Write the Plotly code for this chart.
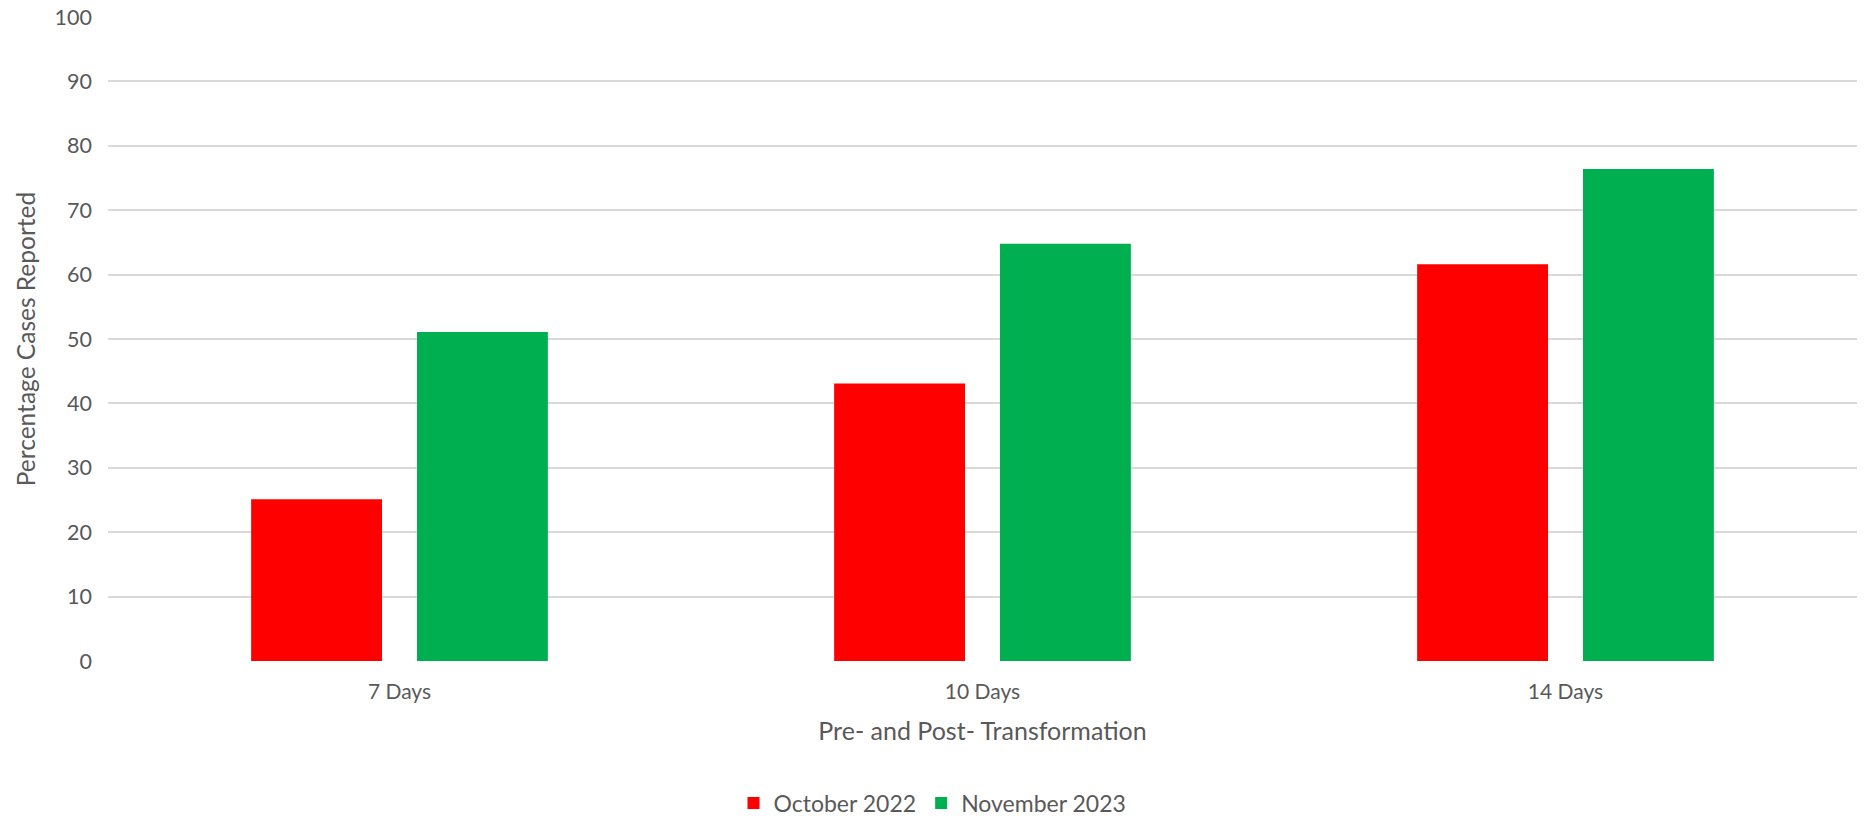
import plotly.graph_objects as go

# Reporting windows and the share of cases reported within each
categories = ["7 Days", "10 Days", "14 Days"]
october_2022 = [25.1, 43.1, 61.6]
november_2023 = [51.1, 64.8, 76.4]
y_ticks = [0, 10, 20, 30, 40, 50, 60, 70, 80, 90, 100]

FONT = "Lato"
TEXT = "#595959"

fig = go.Figure()
fig.add_trace(go.Bar(name="October 2022", x=categories, y=october_2022,
                     marker=dict(color="#FF0000", line=dict(width=0))))
fig.add_trace(go.Bar(name="November 2023", x=categories, y=november_2023,
                     marker=dict(color="#00B050", line=dict(width=0))))

fig.update_layout(
    width=1865, height=816,
    margin=dict(l=108, r=8, t=17, b=155, autoexpand=False),
    paper_bgcolor="white", plot_bgcolor="white",
    barmode="group", bargap=0.431, bargroupgap=0.211,
    font=dict(family=FONT, size=21, color=TEXT),
    showlegend=True,
    legend=dict(orientation="h", xref="container", x=0.5, xanchor="center",
                yref="container", y=0.016, yanchor="middle",
                font=dict(size=23, color=TEXT), traceorder="normal",
                itemwidth=30),
)
fig.update_xaxes(
    showline=False, showgrid=False, ticks="", ticklabelstandoff=16, automargin=False,
    tickfont=dict(size=21, color=TEXT),
    title=dict(text="Pre- and Post- Transformation", font=dict(size=25, color=TEXT), standoff=20),
)
fig.update_yaxes(
    range=[0, 100], tickvals=y_ticks, showgrid=True, gridcolor="#D9D9D9", gridwidth=1.5,
    zeroline=False, showline=False, ticks="", ticklabelstandoff=15, automargin=False,
    tickfont=dict(size=21.5, color=TEXT),
    title=dict(text="Percentage Cases Reported", font=dict(size=24.5, color=TEXT), standoff=12),
)

fig.write_html("out.html")
